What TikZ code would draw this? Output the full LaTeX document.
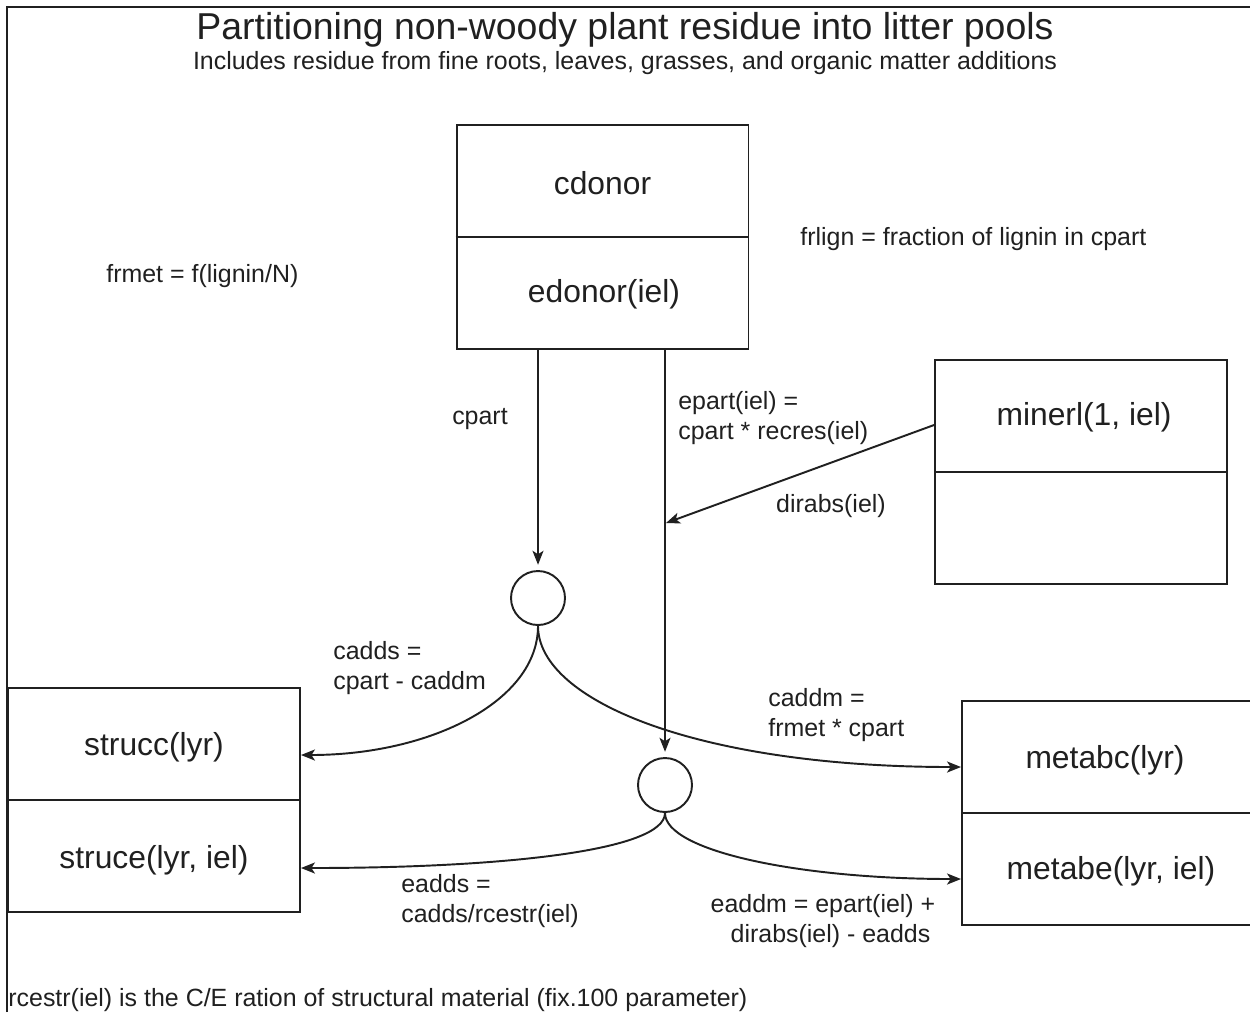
\documentclass[tikz,border=0pt]{standalone}
\usepackage{fontspec}
\setmainfont{Liberation Sans}
\usetikzlibrary{arrows.meta,calc}
\definecolor{inkc}{RGB}{32,32,32}
\begin{document}
\begin{tikzpicture}[x=0.02cm,y=-0.02cm,
  ink/.style={draw=inkc, line width=1.1pt},
  pool/.style={ink, rectangle, minimum width=5.84cm, minimum height=4.48cm, inner sep=0pt},
  junction/.style={ink, circle, minimum size=1.08cm, inner sep=0pt},
  flow/.style={ink, -{Stealth[length=0.28cm,width=0.22cm,inset=0.07cm]}},
  lbl/.style={text=inkc, font=\fontsize{14.2pt}{17.6pt}\selectfont, inner sep=0pt, align=left},
  big/.style={text=inkc, font=\fontsize{18.1pt}{22pt}\selectfont, inner sep=0pt}]

\useasboundingbox[fill=white] (0,0) rectangle (1250,1012);
% frame edges
\draw[ink] (7,1012) -- (7,7) -- (1250,7);

% titles
\node[text=inkc, font=\fontsize{21.3pt}{24pt}\selectfont, inner sep=0pt] (title) at (625,30)
  {Partitioning non-woody plant residue into litter pools};
\node[lbl] (subtitle) at (625,63)
  {Includes residue from fine roots, leaves, grasses, and organic matter additions};

% pools
\node[pool] (cdon) at (602.5,237) {};
\draw[ink] (cdon.west) -- (cdon.east);
\node[big] (cdonT) at (602.5,183) {cdonor};
\node[big] (cdonB) at (604,294) {edonor(iel)};

\node[pool] (minerl) at (1081,472) {};
\draw[ink] (minerl.west) -- (minerl.east);
\node[big] (minerlT) at (1084,417) {minerl(1, iel)};

\node[pool] (strucc) at (154,800) {};
\draw[ink] (strucc.west) -- (strucc.east);
\node[big] (struccT) at (154,747) {strucc(lyr)};
\node[big] (struccB) at (154,860) {struce(lyr, iel)};

\node[pool] (metabc) at (1108,813) {};
\draw[ink] (metabc.west) -- (metabc.east);
\node[big] (metabcT) at (1105,760) {metabc(lyr)};
\node[big] (metabcB) at (1111,871) {metabe(lyr, iel)};

% junctions
\node[junction] (c1) at (538,598) {};
\node[junction] (c2) at (665,785) {};

% flows into the junctions
\draw[flow, shorten >=3pt] (c1 |- cdon.south) -- (c1.north);
\draw[flow, shorten >=3pt] (c2 |- cdon.south) -- (c2.north);
\coordinate (j) at (666,523);
\draw[flow] ($(minerl.west)+(0,-47)$) -- (j);

% flows out of the junctions
\draw[flow] (c1.south) .. controls +(0,75) and +(130,0) .. ($(strucc.east)+(0,-45)$);
\draw[flow] (c1.south) .. controls +(0,75) and +(-262,0) .. ($(metabc.west)+(0,-46)$);
\draw[flow] (c2.south) .. controls +(0,38) and +(200,0) .. ($(strucc.east)+(0,68)$);
\draw[flow] (c2.south) .. controls +(0,38) and +(-162,0) .. ($(metabc.west)+(0,66)$);

% labels
\node[lbl, anchor=west] (frmet) at (106,276) {frmet = f(lignin/N)};
\node[lbl, anchor=west] (frlign) at (800,239) {frlign = fraction of lignin in cpart};
\node[lbl] (cpartL) at (480,419) {cpart};
\node[lbl, anchor=west] (epartL) at (678,418) {epart(iel) =\\cpart * recres(iel)};
\node[lbl] (dirabsL) at (831,506) {dirabs(iel)};
\node[lbl, anchor=west] (caddsL) at (333,668) {cadds =\\cpart - caddm};
\node[lbl, anchor=west] (caddmL) at (768,715) {caddm =\\frmet * cpart};
\node[lbl, anchor=west] (eaddsL) at (401,901) {eadds =\\cadds/rcestr(iel)};
\node[lbl, align=center] (eaddmL) at (823,921) {eaddm = epart(iel) +\\\hspace*{0.3cm}dirabs(iel) - eadds};
\node[lbl, anchor=west] (note) at (8,1000)
  {rcestr(iel) is the C/E ration of structural material (fix.100 parameter)};
\end{tikzpicture}
\end{document}
